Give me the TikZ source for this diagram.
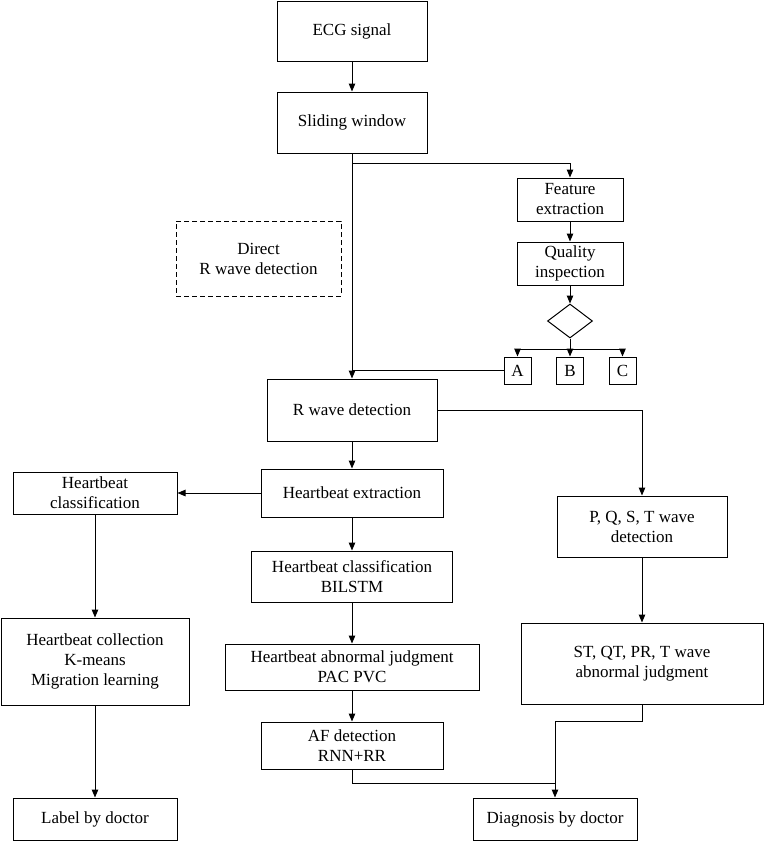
\documentclass[tikz,border=0pt]{standalone}
\usepackage{fontspec}
\setmainfont{Liberation Serif}
\usetikzlibrary{arrows.meta,shapes.geometric}
\begin{document}
\begin{tikzpicture}[x=1pt,y=-1pt,
    box/.style={draw,line width=1pt,align=center,inner sep=0pt,
        font=\fontsize{17}{20}\selectfont},
    dbox/.style={box,dashed,dash pattern=on 5pt off 3pt},
    arr/.style={line width=1pt,-{Triangle[length=8pt,width=6.5pt]}},
    ln/.style={line width=1pt}]
    \useasboundingbox (0,0) rectangle (764,841);
    \node[box,minimum width=150,minimum height=60] (ecg) at (352,31) {ECG signal};
    \node[box,minimum width=150,minimum height=61] (slide) at (352,122.5) {Sliding window};
    \node[box,minimum width=106,minimum height=43] (feat) at (570,199.5) {Feature\\extraction};
    \node[box,minimum width=106,minimum height=43] (qual) at (570,263.5) {Quality\\inspection};
    \node[draw,line width=1pt,diamond,inner sep=0pt,minimum width=45,minimum height=34] (dia) at (570,321) {};
    \foreach \n/\x/\t in {ba/517.5/A, bb/570/B, bc/622.5/C}{
        \node[box,minimum width=27,minimum height=27] (\n) at (\x,370.5) {\t};
    }
    \node[dbox,minimum width=165,minimum height=75] (direct) at (258.5,258.5) {Direct\\R wave detection};
    \node[box,minimum width=170,minimum height=62] (rwave) at (352,410) {R wave detection};
    \node[box,minimum width=182,minimum height=48] (hbext) at (352,493) {Heartbeat extraction};
    \node[box,minimum width=164,minimum height=42] (hbcls) at (95,493) {Heartbeat\\classification};
    \node[box,minimum width=170,minimum height=61] (pqst) at (642,526.5) {P, Q, S, T wave\\detection};
    \node[box,minimum width=201,minimum height=51] (bilstm) at (352,576.5) {Heartbeat classification\\BILSTM};
    \node[box,minimum width=254,minimum height=46] (abn) at (352,667) {Heartbeat abnormal judgment\\PAC PVC};
    \node[box,minimum width=182,minimum height=47] (af) at (352,745.5) {AF detection\\RNN+RR};
    \node[box,minimum width=188,minimum height=87] (coll) at (95,661.5) {Heartbeat collection\\K-means\\Migration learning};
    \node[box,minimum width=242,minimum height=81] (st) at (642,663.5) {ST, QT, PR, T wave\\abnormal judgment};
    \node[box,minimum width=164,minimum height=42] (label) at (95,819) {Label by doctor};
    \node[box,minimum width=164,minimum height=42] (diag) at (555,819) {Diagnosis by doctor};
    \coordinate (br) at (352,163);
    \coordinate (abc) at (570,349);
    \coordinate (mrg) at (555,783);
    \draw[arr] (ecg) -- (slide);
    \draw[arr] (slide) -- (rwave);
    \draw[arr] (br) -| (feat.north);
    \draw[arr] (feat) -- (qual);
    \draw[arr] (qual) -- (dia);
    \draw[ln] (dia.south) -- (abc);
    \draw[ln] (abc -| ba) -- (abc -| bc);
    \foreach \n in {ba,bb,bc}{
        \draw[arr] (abc -| \n) -- (\n.north);
    }
    \draw[ln] (ba.west) -- (ba.west -| rwave.north);
    \draw[arr] (rwave.east) -| (pqst.north);
    \draw[arr] (rwave) -- (hbext);
    \draw[arr] (hbext) -- (hbcls);
    \draw[arr] (hbext) -- (bilstm);
    \draw[arr] (bilstm) -- (abn);
    \draw[arr] (abn) -- (af);
    \draw[arr] (hbcls) -- (coll);
    \draw[arr] (coll) -- (label);
    \draw[arr] (pqst) -- (st);
    \draw[ln] (af.south) |- (mrg);
    \draw[arr] (st.south) -- ++(0,17) -| (diag.north);
\end{tikzpicture}
\end{document}
